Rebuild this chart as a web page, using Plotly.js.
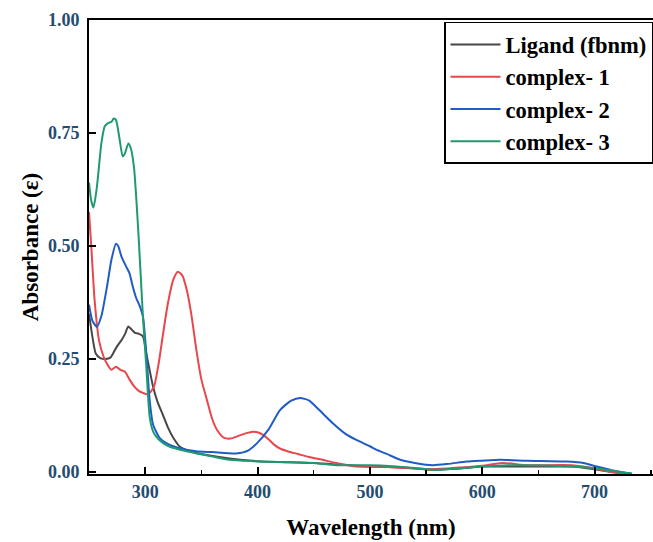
<!DOCTYPE html>
<html>
<head>
<meta charset="utf-8">
<script src="https://cdn.plot.ly/plotly-3.0.1.min.js"></script>
<style>html,body{margin:0;padding:0;background:#fff;}#chart{width:653px;height:542px;}</style>
</head>
<body>
<div id="chart"></div>
<script>
// Series names
const seriesNames = ["Ligand (fbnm)", "complex- 1", "complex- 2", "complex- 3"];

// Ligand (fbnm)
const ligandX = [250, 253, 256, 260, 265, 269, 272, 275, 279, 282, 285, 288, 291, 294, 298, 301, 304, 307, 311, 316, 320, 325, 331, 340, 350, 375, 400, 450, 500, 530, 555, 580, 600, 650, 680, 700, 715, 733];
const ligandY = [0.35, 0.30, 0.262, 0.252, 0.250, 0.253, 0.265, 0.278, 0.292, 0.305, 0.322, 0.315, 0.308, 0.306, 0.300, 0.262, 0.225, 0.189, 0.155, 0.125, 0.100, 0.076, 0.056, 0.046, 0.040, 0.030, 0.024, 0.020, 0.012, 0.010, 0.005, 0.008, 0.012, 0.012, 0.012, 0.006, 0.0, -0.004];

// complex- 1
const complex1X = [250, 252, 255, 259, 263, 267, 270, 274, 278, 282, 286, 290, 294, 298, 302, 305, 308, 312, 316, 320, 325, 329, 333, 337, 341, 346, 350, 355, 360, 364, 370, 376, 383, 390, 396, 400, 405, 410, 415, 420, 428, 436, 446, 456, 470, 488, 506, 530, 556, 580, 600, 618, 640, 680, 700, 715, 733];
const complex1Y = [0.575, 0.50, 0.38, 0.29, 0.255, 0.235, 0.226, 0.233, 0.226, 0.222, 0.205, 0.190, 0.180, 0.175, 0.172, 0.178, 0.190, 0.240, 0.307, 0.370, 0.425, 0.443, 0.435, 0.403, 0.350, 0.263, 0.205, 0.159, 0.115, 0.093, 0.076, 0.074, 0.080, 0.086, 0.089, 0.088, 0.082, 0.072, 0.060, 0.052, 0.045, 0.040, 0.033, 0.028, 0.020, 0.012, 0.012, 0.009, 0.006, 0.010, 0.014, 0.020, 0.015, 0.015, 0.008, 0.0, -0.004];

// complex- 2
const complex2X = [250, 253, 257, 261, 266, 270, 274, 276, 279, 283, 286, 289, 292, 295, 298, 301, 304, 307, 313, 320, 331, 345, 360, 381, 392, 400, 410, 420, 430, 438, 446, 455, 467, 478, 488, 500, 506, 515, 527, 540, 556, 570, 586, 600, 616, 640, 675, 690, 702, 715, 733];
const complex2Y = [0.37, 0.335, 0.321, 0.345, 0.41, 0.47, 0.505, 0.500, 0.476, 0.455, 0.44, 0.41, 0.385, 0.368, 0.344, 0.263, 0.159, 0.105, 0.075, 0.062, 0.052, 0.046, 0.044, 0.041, 0.048, 0.065, 0.095, 0.137, 0.158, 0.164, 0.158, 0.137, 0.108, 0.085, 0.071, 0.057, 0.049, 0.040, 0.027, 0.020, 0.015, 0.018, 0.023, 0.025, 0.027, 0.025, 0.023, 0.020, 0.012, 0.004, -0.004];

// complex- 3
const complex3X = [250, 252, 254, 257, 261, 264, 267, 270, 272, 274, 277, 280, 282, 285, 287, 290, 294, 298, 301, 304, 307, 310, 316, 322, 335, 346, 360, 375, 396, 420, 450, 470, 500, 520, 540, 556, 580, 600, 627, 675, 702, 715, 733];
const complex3Y = [0.64, 0.60, 0.585, 0.63, 0.727, 0.765, 0.772, 0.775, 0.782, 0.779, 0.74, 0.698, 0.705, 0.727, 0.718, 0.675, 0.528, 0.344, 0.233, 0.122, 0.090, 0.078, 0.064, 0.056, 0.047, 0.041, 0.034, 0.027, 0.024, 0.022, 0.020, 0.015, 0.015, 0.013, 0.009, 0.005, 0.008, 0.012, 0.015, 0.013, 0.008, 0.003, -0.004];

// Axis ticks
const xTickVals = [300, 400, 500, 600, 700];
const xTickText = ["300", "400", "500", "600", "700"];
const yTickVals = [0, 0.25, 0.5, 0.75, 1.0];
const yTickText = ["0.00", "0.25", "0.50", "0.75", "1.00"];

const colors = ["#474747", "#e8474c", "#1f5cc6", "#1e9a72"];
const xs = [ligandX, complex1X, complex2X, complex3X];
const ys = [ligandY, complex1Y, complex2Y, complex3Y];

const serif = "Liberation Serif, Times New Roman, serif";
const traces = seriesNames.map((n, i) => ({
  x: xs[i], y: ys[i], name: n, type: "scatter", mode: "lines",
  line: {color: colors[i], width: 2, shape: "spline", smoothing: 0.6}
}));

const xr = [250, 752];
const yr = [-0.0044, 1.0];

const layout = {
  width: 653, height: 542,
  margin: {l: 89, r: 0, t: 20, b: 68},
  paper_bgcolor: "#ffffff", plot_bgcolor: "#ffffff",
  showlegend: true,
  font: {family: serif, color: "#000"},
  xaxis: {
    range: xr, showgrid: false, zeroline: false,
    showline: true, linecolor: "#000", linewidth: 2, mirror: true,
    ticks: "inside", ticklen: 7, tickwidth: 2, tickcolor: "#000",
    tickvals: xTickVals, ticktext: xTickText,
    minor: {ticks: "inside", ticklen: 4, tickwidth: 1.5, tickcolor: "#000", dtick: 50, tick0: 250},
    tickfont: {family: serif, size: 18, color: "#244c70", weight: "bold"},
    title: {text: "Wavelength (nm)", font: {family: serif, size: 23, color: "#000", weight: "bold"}, standoff: 18}
  },
  yaxis: {
    range: yr, showgrid: false, zeroline: false,
    showline: true, linecolor: "#000", linewidth: 2, mirror: true,
    ticks: "inside", ticklen: 7, tickwidth: 2, tickcolor: "#000",
    tickvals: yTickVals, ticktext: yTickText,
    ticklabelstandoff: 4,
    tickfont: {family: serif, size: 18, color: "#244c70", weight: "bold"},
    title: {text: "Absorbance (ε)", font: {family: serif, size: 23, color: "#000", weight: "bold"}, standoff: 3}
  },
  yaxis2: {
    overlaying: "y", side: "left", range: yr, showgrid: false, zeroline: false,
    showline: false, ticks: "outside", ticklen: 6, tickwidth: 2, tickcolor: "#000",
    tickvals: [0.25, 0.5, 0.75], showticklabels: false, fixedrange: true
  },
  legend: {
    x: 1, xanchor: "right", y: 0.996, yanchor: "top",
    bgcolor: "#ffffff", bordercolor: "#000", borderwidth: 1.5,
    font: {family: serif, size: 22.5, color: "#000", weight: "bold"},
    itemwidth: 50, tracegroupgap: 0
  }
};

Plotly.newPlot("chart", traces, layout, {displayModeBar: false, staticPlot: true});
</script>
</body>
</html>
